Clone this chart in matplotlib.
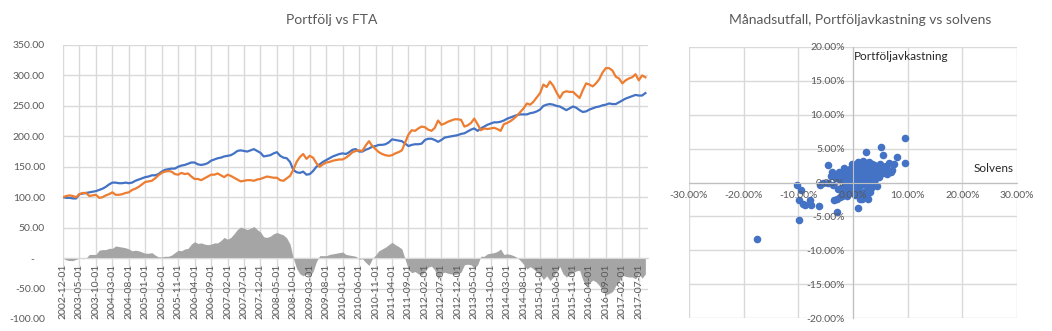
import numpy as np
import matplotlib.pyplot as plt

plt.rcParams['font.family'] = ['Lato', 'DejaVu Sans']

# månadsdata 2002-12 .. 2017-09, indexerat till 100
months = np.arange('2002-12', '2017-10', dtype='datetime64[M]')

portfolj = np.array([
    100, 99, 99, 98, 98, 105, 106, 107, 108, 109,
    110, 112, 114, 117, 121, 124, 124, 123, 123, 124,
    123, 124, 127, 129, 131, 133, 134, 136, 136, 138,
    142, 145, 146, 147, 147, 150, 152, 153, 155, 157,
    157, 154, 153, 154, 156, 160, 162, 164, 165, 167,
    168, 169, 172, 176, 177, 176, 175, 177, 179, 176,
    173, 167, 168, 169, 172, 174, 168, 165, 164, 158,
    145, 141, 140, 142, 137, 138, 143, 150, 154, 158,
    161, 164, 167, 169, 171, 172, 171, 174, 178, 179,
    175, 175, 178, 180, 183, 184, 186, 186, 187, 190,
    195, 194, 193, 192, 188, 184, 186, 187, 187, 188,
    194, 196, 196, 194, 191, 194, 198, 199, 200, 201,
    202, 204, 205, 208, 211, 213, 209, 213, 216, 219,
    221, 223, 223, 224, 226, 229, 231, 233, 235, 236,
    236, 236, 238, 239, 241, 244, 250, 252, 253, 252,
    250, 249, 246, 243, 246, 249, 247, 243, 240, 241,
    244, 246, 248, 249, 251, 252, 254, 253, 253, 256,
    259, 262, 264, 266, 268, 267, 267, 271])

fta = np.array([
    100, 102, 103, 102, 100, 105, 107, 107, 102, 103,
    104, 99, 100, 103, 105, 108, 104, 104, 105, 107,
    108, 112, 114, 117, 121, 125, 126, 127, 131, 136,
    140, 142, 143, 142, 138, 137, 140, 138, 139, 134,
    130, 130, 128, 131, 134, 137, 137, 139, 136, 133,
    137, 135, 132, 129, 126, 127, 128, 128, 127, 129,
    130, 132, 134, 133, 132, 132, 128, 127, 131, 135,
    145, 158, 166, 171, 163, 168, 165, 156, 150, 154,
    157, 158, 160, 161, 162, 162, 165, 169, 174, 176,
    177, 176, 185, 192, 184, 179, 174, 171, 169, 168,
    169, 172, 174, 177, 190, 203, 210, 209, 213, 216,
    215, 211, 209, 214, 226, 219, 221, 224, 226, 228,
    228, 227, 216, 218, 222, 229, 220, 210, 213, 212,
    213, 214, 212, 209, 220, 222, 225, 229, 234, 240,
    246, 254, 252, 257, 264, 271, 285, 281, 290, 283,
    272, 263, 272, 274, 273, 273, 268, 263, 276, 287,
    285, 282, 287, 294, 305, 312, 312, 308, 298, 295,
    287, 292, 295, 297, 302, 292, 300, 297])

# månadsutfall i procent
solvens = [
    -17.6, 9.6, 9.6, 5.2, 5.4, 2.4, 8.0, 7.1, 6.5, 5.7, -4.6,
    -10.2, -9.6, -9.9, -9.1, -8.7, -7.9, -7.6, -6.3, -9.8, -3.0, 1.0,
    -3.5, -2.9, -2.3, -1.1, 1.3, 2.7, -6.0, -5.4, -4.5, -3.8, -3.5,
    -2.5, -2.0, -1.8, -1.5, -1.2, -1.0, -0.8, -0.6, -0.5, -0.3, 0.0,
    0.0, 0.2, 0.3, 0.5, 0.6, 0.8, 1.0, 1.0, 1.2, 1.4, 1.5, 1.6, 1.8,
    2.0, 2.0, 2.2, 2.4, 2.6, 2.8, 3.0, 3.0, 3.2, 3.4, 3.6, 3.8, 4.0,
    4.2, 4.5, 4.8, 5.0, 5.5, 6.0, 6.2, 7.0, 7.5, -1.3, -0.7, 0.4,
    1.1, 0.7, -2.2, -1.7, -0.2, 0.9, 2.5, 1.3, -0.9, 0.1, 0.4, 1.7,
    2.9, 3.5, 4.4, 2.3, -0.4, -1.9, -2.8, -3.2, -2.6, 0.6, 1.9, 2.7,
    3.3, -0.1, 1.5, 0.2, -1.1, 4.7, 5.8, 3.9, 2.1, 1.2, 0.8, -0.6,
    -1.4, 2.6, 3.1, 1.6, -4.0, -3.6, -2.1, 0.3, 1.4, 2.2, -0.9, 0.5,
    1.8, 3.6, -1.6, 0.9, 2.4, 4.1, 1.1, -0.3, 2.9, 0.1]
avkastning = [
    -8.3, 6.6, 2.9, 5.2, 4.1, 4.5, 3.7, 1.8, 2.9, 2.3, 2.6,
    -0.4, -1.1, -2.6, -3.1, -3.3, -2.6, -3.3, -3.5, -5.6, -4.4, -3.7,
    -2.6, -2.4, -2.2, -2.0, -2.4, -2.4, -0.4, -0.1, -0.1, 1.6, 1.1,
    0.5, 1.2, 0.3, -0.5, 1.5, 0.8, -0.2, 2.0, 1.0, 0.2, -0.6,
    1.6, 0.6, 2.6, -0.3, 1.2, 0.2, 2.2, -1.0, 0.9, 1.8, -0.4, 0.4, 3.2,
    1.2, -1.4, 2.4, 0.6, 1.6, -0.8, 3.0, 0.2, 2.0, 1.0, -0.2, 2.6, 1.4,
    0.6, 2.2, 1.6, 2.8, 1.4, 2.4, 1.2, 1.6, 2.8, -1.3, -1.6, -1.8,
    -2.0, -0.9, -0.8, 2.2, 2.8, 3.0, 2.9, -1.5, 1.9, 0.0, 0.9, 1.0,
    1.1, 2.7, -0.5, -0.3, -1.0, -1.6, -1.0, 0.6, 1.6, 0.4, 0.7, 0.1,
    -0.8, 1.3, 2.6, -1.2, 0.1, 0.8, 2.0, 0.1, 1.9, 0.0, 1.6, 0.5,
    0.9, -1.9, -1.4, -2.4, 1.0, -0.4, -2.0, 1.1, 0.4, 0.3, 1.0, 2.2,
    2.0, 1.8, 0.2, 1.4, 0.9, 2.4, 1.3, 0.7, 1.7, 2.1]

grid_c = '#d9d9d9'
text_c = '#595959'
fig = plt.figure(figsize=(10.52, 3.31), dpi=100)

# --- Portfölj vs FTA ---
ax = fig.add_axes([63 / 1052, 1 - 319 / 331, 585 / 1052, 274 / 331])
x = np.arange(len(months))
skillnad = portfolj - fta
ax.fill_between(x, skillnad, 0, color='#A5A5A5', lw=0, zorder=1)
ax.plot(x, portfolj, color='#4472C4', lw=1.6, zorder=2)
ax.plot(x, fta, color='#ED7D31', lw=1.6, zorder=2)

yticks = np.arange(-100, 351, 50)
for v in yticks:
    ax.axhline(v, color=grid_c, lw=1, zorder=0)
for t in x[::5]:
    ax.axvline(t, color=grid_c, lw=1, zorder=0)
ax.set_ylim(-100, 350)
ax.set_xlim(0, 177.8)
ax.set_yticks(yticks)
ax.set_yticklabels(['-    ' if v == 0 else f'{v:.2f}' for v in yticks])
ax.set_xticks(x[::5])
ax.set_xticklabels([f'{m}-01' for m in months[::5]])
ax.tick_params(axis='x', rotation=90, length=0, pad=4, labelsize=7.5, colors=text_c)
ax.tick_params(axis='y', length=0, pad=13, labelsize=7.5, colors=text_c)
for s in ['top', 'right', 'left']:
    ax.spines[s].set_visible(False)
ax.spines['bottom'].set_position(('data', 0))
ax.spines['bottom'].set_color(grid_c)
fig.text(332 / 1052, 1 - 20 / 331, 'Portfölj vs FTA', ha='center', va='center',
         fontsize=10, color=text_c)

# --- Månadsutfall ---
ax2 = fig.add_axes([689 / 1052, 1 - 318 / 331, 328 / 1052, 271 / 331])
ax2.scatter(solvens, avkastning, s=30, color='#4472C4', lw=0, zorder=1)
for v in range(-30, 31, 10):
    ax2.axvline(v, color=grid_c, lw=1, zorder=0)
for v in range(-20, 21, 5):
    ax2.axhline(v, color=grid_c, lw=1, zorder=0)
ax2.set_xlim(-30, 30)
ax2.set_ylim(-20, 20)
ax2.set_xticks(range(-30, 31, 10))
ax2.set_yticks(range(-20, 21, 5))
ax2.set_xticklabels([f'{v:.2f}%' for v in range(-30, 31, 10)])
ax2.set_yticklabels([f'{v:.2f}%' for v in range(-20, 21, 5)])
ax2.tick_params(axis='x', length=0, pad=6, labelsize=7.5, colors=text_c)
ax2.tick_params(axis='y', length=0, pad=6, labelsize=7.5, colors=text_c)
for s in ['top', 'right']:
    ax2.spines[s].set_visible(False)
for s in ['left', 'bottom']:
    ax2.spines[s].set_position('zero')
    ax2.spines[s].set_color('#bfbfbf')
fig.text(854 / 1052, 1 - 56 / 331, 'Portföljavkastning', ha='left', va='center',
         fontsize=8.5, color='#262626')
fig.text(1014 / 1052, 1 - 169 / 331, 'Solvens', ha='right', va='center',
         fontsize=8.5, color='#262626')
fig.text(860 / 1052, 1 - 20 / 331, 'Månadsutfall, Portföljavkastning vs solvens',
         ha='center', va='center', fontsize=10, color=text_c)

fig.savefig('out.png', dpi=100)
